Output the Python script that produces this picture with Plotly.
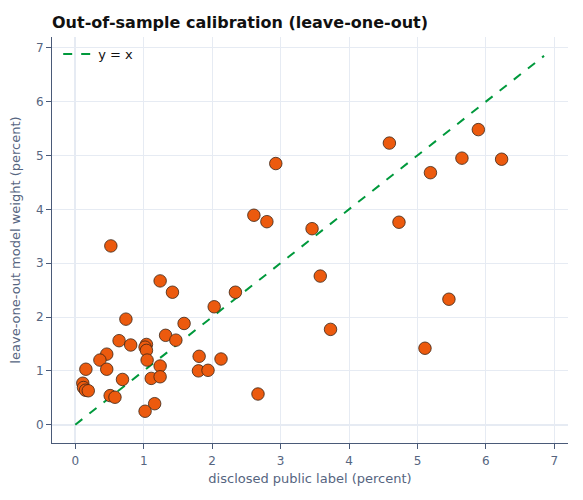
import plotly.graph_objects as go

# disclosed public label (percent)
disclosed = [0.52, 0.74, 1.24, 1.42, 2.34, 2.03, 1.59, 0.64, 0.81, 1.32,
             1.47, 1.04, 1.02, 1.04, 1.05, 0.46, 0.36, 0.155, 0.46, 1.24,
             1.81, 2.13, 1.80, 1.94, 0.11, 0.12, 0.15, 0.19, 0.69, 1.11,
             1.24, 0.51, 0.58, 1.16, 1.02, 2.93, 2.61, 2.80, 3.46, 3.58,
             3.73, 2.67, 4.59, 5.89, 5.65, 6.23, 5.19, 4.73, 5.46, 5.11]
# leave-one-out model weight (percent)
model_weight = [3.32, 1.96, 2.67, 2.46, 2.46, 2.19, 1.88, 1.56, 1.48, 1.66,
                1.57, 1.49, 1.44, 1.38, 1.20, 1.31, 1.20, 1.03, 1.03, 1.09,
                1.27, 1.22, 1.00, 1.01, 0.77, 0.69, 0.64, 0.63, 0.84, 0.86,
                0.89, 0.54, 0.51, 0.39, 0.25, 4.85, 3.89, 3.77, 3.64, 2.76,
                1.77, 0.57, 5.23, 5.48, 4.95, 4.93, 4.68, 3.76, 2.33, 1.42]
# reference line y = x
diag = [0, 6.85]

fig = go.Figure()
fig.add_trace(go.Scatter(
    x=diag, y=diag, mode="lines", name="y = x",
    line=dict(color="#00993c", width=2, dash="dash"),
))
fig.add_trace(go.Scatter(
    x=disclosed, y=model_weight, mode="markers", showlegend=False,
    marker=dict(size=12.5, color="#ec5a0e", line=dict(color="#3a2515", width=0.8)),
))

axis_common = dict(
    showgrid=True, gridcolor="#e6ebf3", gridwidth=1,
    zeroline=True, zerolinecolor="#e6ebf3", zerolinewidth=1.5,
    showline=True, linecolor="#4a5a78", linewidth=1,
    ticks="outside", tickcolor="#4a5a78", ticklen=5,
    tickfont=dict(size=12, color="#56657f"),
    dtick=1, tick0=0, automargin=False,
)

fig.update_layout(
    width=583, height=500,
    template="plotly_white",
    font=dict(family="DejaVu Sans", color="#56657f"),
    paper_bgcolor="white", plot_bgcolor="white",
    margin=dict(l=52, r=15, t=37, b=57),
    title=dict(text="<b>Out-of-sample calibration (leave-one-out)</b>",
               x=0, xref="paper", xanchor="left", y=0.955, yanchor="middle",
               font=dict(size=16, color="#111111")),
    legend=dict(x=0.012, y=0.995, xanchor="left", yanchor="top",
                bgcolor="rgba(255,255,255,0)", font=dict(size=13, color="#111111")),
    xaxis=dict(title=dict(text="disclosed public label (percent)", font=dict(size=13),
                          standoff=6),
               range=[-0.34, 7.2], ticklabelstandoff=2, **axis_common),
    yaxis=dict(title=dict(text="leave-one-out model weight (percent)", font=dict(size=13),
                          standoff=12),
               range=[-0.34, 7.2], **axis_common),
)

fig.write_html("out.html")
